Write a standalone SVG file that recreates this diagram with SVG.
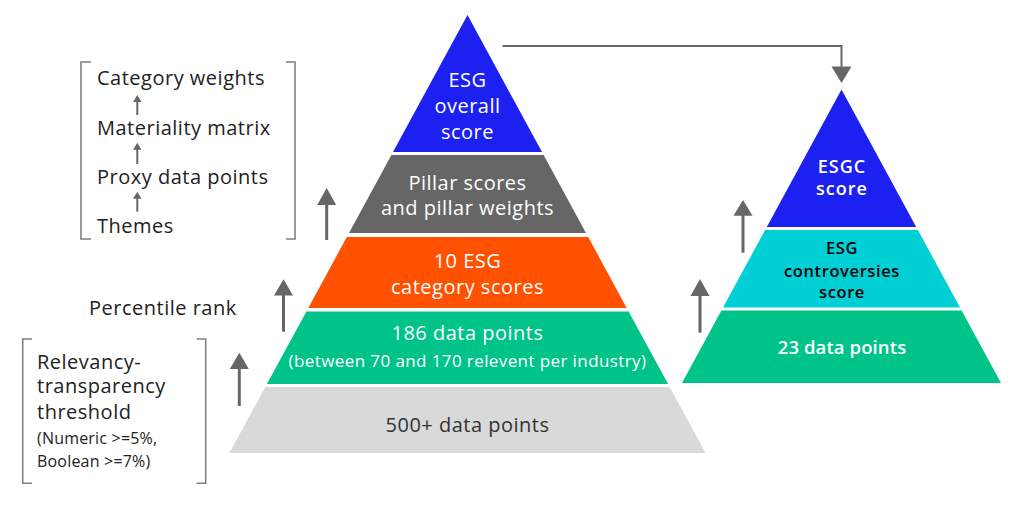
<svg xmlns="http://www.w3.org/2000/svg" width="1024" height="510" viewBox="0 0 1024 510">
<defs>
<style>
text{font-family:"Open Sans","Liberation Sans",sans-serif;letter-spacing:0.5px}
.lbl{font-size:20px;fill:#222}
.sm{font-size:16px;fill:#222;letter-spacing:0.2px}
.pw{font-size:20px;fill:#fff;text-anchor:middle}
.pd{font-size:20px;fill:#333;text-anchor:middle}
.ps{font-size:17px;fill:#fff;text-anchor:middle;letter-spacing:0.4px}
.rw{font-size:18px;fill:#fff;text-anchor:middle;font-weight:600;letter-spacing:1px}
.rd{font-size:16.5px;fill:#000;text-anchor:middle;font-weight:600;letter-spacing:0.6px}
.br{fill:none;stroke:#808080;stroke-width:1.6}
.ln{fill:none;stroke:#666;stroke-width:3}
.sl{fill:none;stroke:#666;stroke-width:2}
.ah{fill:#666}
</style>
</defs>
<rect width="1024" height="510" fill="#fff"/>

<!-- Left pyramid -->
<g id="esg-overall">
<polygon points="467.5,15 542,152 393,152" fill="#1c21f2"/>
<text class="pw" x="467.5" y="87">ESG</text>
<text class="pw" x="467.5" y="113">overall</text>
<text class="pw" x="467.5" y="138.5">score</text>
</g>
<g id="pillar-scores">
<polygon points="391.4,155 543.6,155 586,233 349,233" fill="#666666"/>
<text class="pw" x="467.5" y="190">Pillar scores</text>
<text class="pw" x="467.5" y="215">and pillar weights</text>
</g>
<g id="category-scores">
<polygon points="346.8,237 588.2,237 626.7,308 308.3,308" fill="#ff5100"/>
<text class="pw" x="467.5" y="268">10 ESG</text>
<text class="pw" x="467.5" y="294">category scores</text>
</g>
<g id="data-186">
<polygon points="306.4,311.5 628.6,311.5 668.1,384 266.9,384" fill="#00c389"/>
<text class="pw" x="467.5" y="340">186 data points</text>
<text class="ps" x="467.5" y="366.5">(between 70 and 170 relevent per industry)</text>
</g>
<g id="data-500">
<polygon points="265.3,387 669.7,387 705.6,453 229.4,453" fill="#d9d9d9"/>
<text class="pd" x="467.5" y="431.5">500+ data points</text>
</g>

<!-- Right pyramid -->
<g id="esgc-score">
<polygon points="841.5,89.5 916.2,227 766.8,227" fill="#1c21f2"/>
<text class="rw" x="842" y="172.5">ESGC</text>
<text class="rw" x="842" y="195">score</text>
</g>
<g id="controversies-score">
<polygon points="765.1,230 917.9,230 960,307.5 723,307.5" fill="#00cfd6"/>
<text class="rd" x="842" y="254">ESG</text>
<text class="rd" x="842" y="276.5">controversies</text>
<text class="rd" x="842" y="298">score</text>
</g>
<g id="data-23">
<polygon points="721.4,310.5 961.6,310.5 1001,383 682,383" fill="#00c389"/>
<text class="rw" x="842" y="354" style="font-size:18.5px;letter-spacing:0.1px">23 data points</text>
</g>

<!-- Top-left bracket list -->
<g id="category-list">
<path class="br" d="M91,62 H81 V239 H91 M286,62 H295 V239 H286"/>
<text class="lbl" x="97" y="85">Category weights</text>
<text class="lbl" x="97" y="135">Materiality matrix</text>
<text class="lbl" x="97" y="183.5">Proxy data points</text>
<text class="lbl" x="97" y="233">Themes</text>
</g>

<g id="percentile-rank">
<text class="lbl" x="89" y="315">Percentile rank</text>
</g>

<g id="threshold">
<path class="br" d="M32,339 H22.7 V483.3 H32 M196.7,339 H205.7 V483.3 H196.7"/>
<text class="lbl" x="37" y="369">Relevancy-</text>
<text class="lbl" x="37" y="393.3">transparency</text>
<text class="lbl" x="37" y="419.3">threshold</text>
<text class="sm" x="37" y="444">(Numeric &gt;=5%,</text>
<text class="sm" x="37" y="466.7">Boolean &gt;=7%)</text>
</g>

<!-- Connectors -->
<g id="connectors">
<path class="sl" d="M137.3,115 V100 M137.3,164 V148 M137.3,211.7 V197"/>
<polygon class="ah" points="137.3,95 141.5,102 133.1,102"/>
<polygon class="ah" points="137.3,142.7 141.5,149.7 133.1,149.7"/>
<polygon class="ah" points="137.3,191.7 141.5,198.7 133.1,198.7"/>

<path class="ln" d="M326.7,240 V203"/>
<polygon class="ah" points="326.7,188 336.2,205 317.2,205"/>
<path class="ln" d="M283.5,331.7 V293"/>
<polygon class="ah" points="283.5,279.3 293,295.5 274,295.5"/>
<path class="ln" d="M239.3,406 V367"/>
<polygon class="ah" points="239.3,352.7 248.8,369 229.8,369"/>
<path class="ln" d="M743,252.7 V213"/>
<polygon class="ah" points="743,200 752.5,215.7 733.5,215.7"/>
<path class="ln" d="M700,332.7 V294"/>
<polygon class="ah" points="700,279 709.5,296 690.5,296"/>

<path class="sl" d="M502.5,46 H841.5 V68" stroke-width="2.5"/>
<polygon class="ah" points="831.5,66.5 851.5,66.5 841.5,83"/>
</g>
</svg>
